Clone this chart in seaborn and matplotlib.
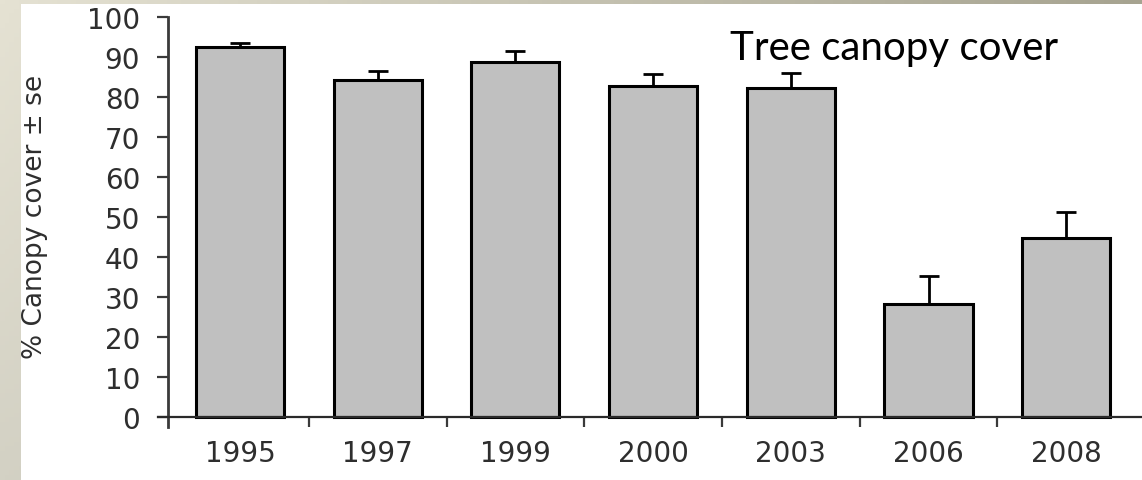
import numpy as np
import matplotlib
matplotlib.use("Agg")
import matplotlib.pyplot as plt
from matplotlib.patches import Rectangle
import seaborn as sns

# Canopy cover survey, mean and standard error per year
years = ["1995", "1997", "1999", "2000", "2003", "2006", "2008"]
cover_mean = [92.5, 84.3, 88.8, 82.8, 82.3, 28.2, 44.8]
cover_se = [1.0, 2.2, 2.8, 3.0, 3.6, 7.0, 6.5]
y_ticks = [0, 10, 20, 30, 40, 50, 60, 70, 80, 90, 100]

sns.set_theme(style="white")
plt.rcParams["font.family"] = ["DejaVu Sans"]

W, H = 1142, 481
fig = plt.figure(figsize=(W / 100, H / 100), dpi=100)

# Slide backdrop: soft beige gradient with a white panel on top
bg = fig.add_axes([0, 0, 1, 1], zorder=-1)
bg.set_axis_off()
xs = np.linspace(0, 1, 240)[None, :, None]
ys = np.linspace(0, 1, 100)[:, None, None]
tl = np.array([229, 226, 211]) / 255
tr = np.array([166, 163, 144]) / 255
bl = np.array([211, 209, 196]) / 255
br = np.array([190, 188, 172]) / 255
grad = (tl * (1 - xs) * (1 - ys) + tr * xs * (1 - ys)
        + bl * (1 - xs) * ys + br * xs * ys)
bg.imshow(grad, extent=[0, 1, 0, 1], aspect="auto", origin="upper")
bg.add_patch(Rectangle((21 / W, 0), 1, (H - 5) / H, facecolor="white",
                       edgecolor="none"))
bg.set_xlim(0, 1)
bg.set_ylim(0, 1)

# Main bar chart
ax = fig.add_axes([158 / W, 53 / H, 984 / W, 410 / H])
ax.patch.set_alpha(0)
sns.barplot(x=years, y=cover_mean, color="#c0c0c0", edgecolor="black",
            linewidth=2.2, width=0.64, errorbar=None, saturation=1, ax=ax)
ax.errorbar(range(len(years)), cover_mean,
            yerr=[np.zeros(len(years)), cover_se], fmt="none",
            ecolor="black", elinewidth=2.0, capsize=7.5, capthick=2.0,
            zorder=1)

ax.set_xlim(-0.5955, 6.55)
ax.set_ylim(-2.5, 100)

for s in ["top", "right"]:
    ax.spines[s].set_visible(False)
ax.spines["left"].set_position(("data", -0.523))
ax.spines["bottom"].set_position(("data", 0))
ax.spines["left"].set_color("#3a3a3a")
ax.spines["bottom"].set_color("#2a2a2a")
ax.spines["left"].set_linewidth(2.0)
ax.spines["bottom"].set_linewidth(1.6)

ax.set_yticks(y_ticks)
ax.set_yticklabels([str(t) for t in y_ticks])
ax.tick_params(axis="y", which="major", direction="out", length=8,
               width=1.6, color="#3a3a3a", pad=12, labelsize=20,
               labelcolor="#2e2e2e", left=True)

ax.set_xticks(range(len(years)))
ax.set_xticklabels(years)
ax.set_xticks(np.arange(0.5, len(years) - 1, 1.0), minor=True)
ax.tick_params(axis="x", which="major", length=0, pad=16, labelsize=20,
               labelcolor="#2e2e2e", bottom=True)
ax.tick_params(axis="x", which="minor", direction="out", length=7,
               width=1.6, color="#3a3a3a", bottom=True)

ax.set_xlabel("")
ax.set_ylabel("% Canopy cover ± se", fontsize=19, color="#2e2e2e")
ax.yaxis.set_label_coords(-0.112, 0.515)

fig.text(730 / W, (H - 60) / H, "Tree canopy cover", fontsize=29,
         family=["Lato", "DejaVu Sans"], color="black", va="baseline",
         ha="left")

fig.savefig("out.png", dpi=100)
